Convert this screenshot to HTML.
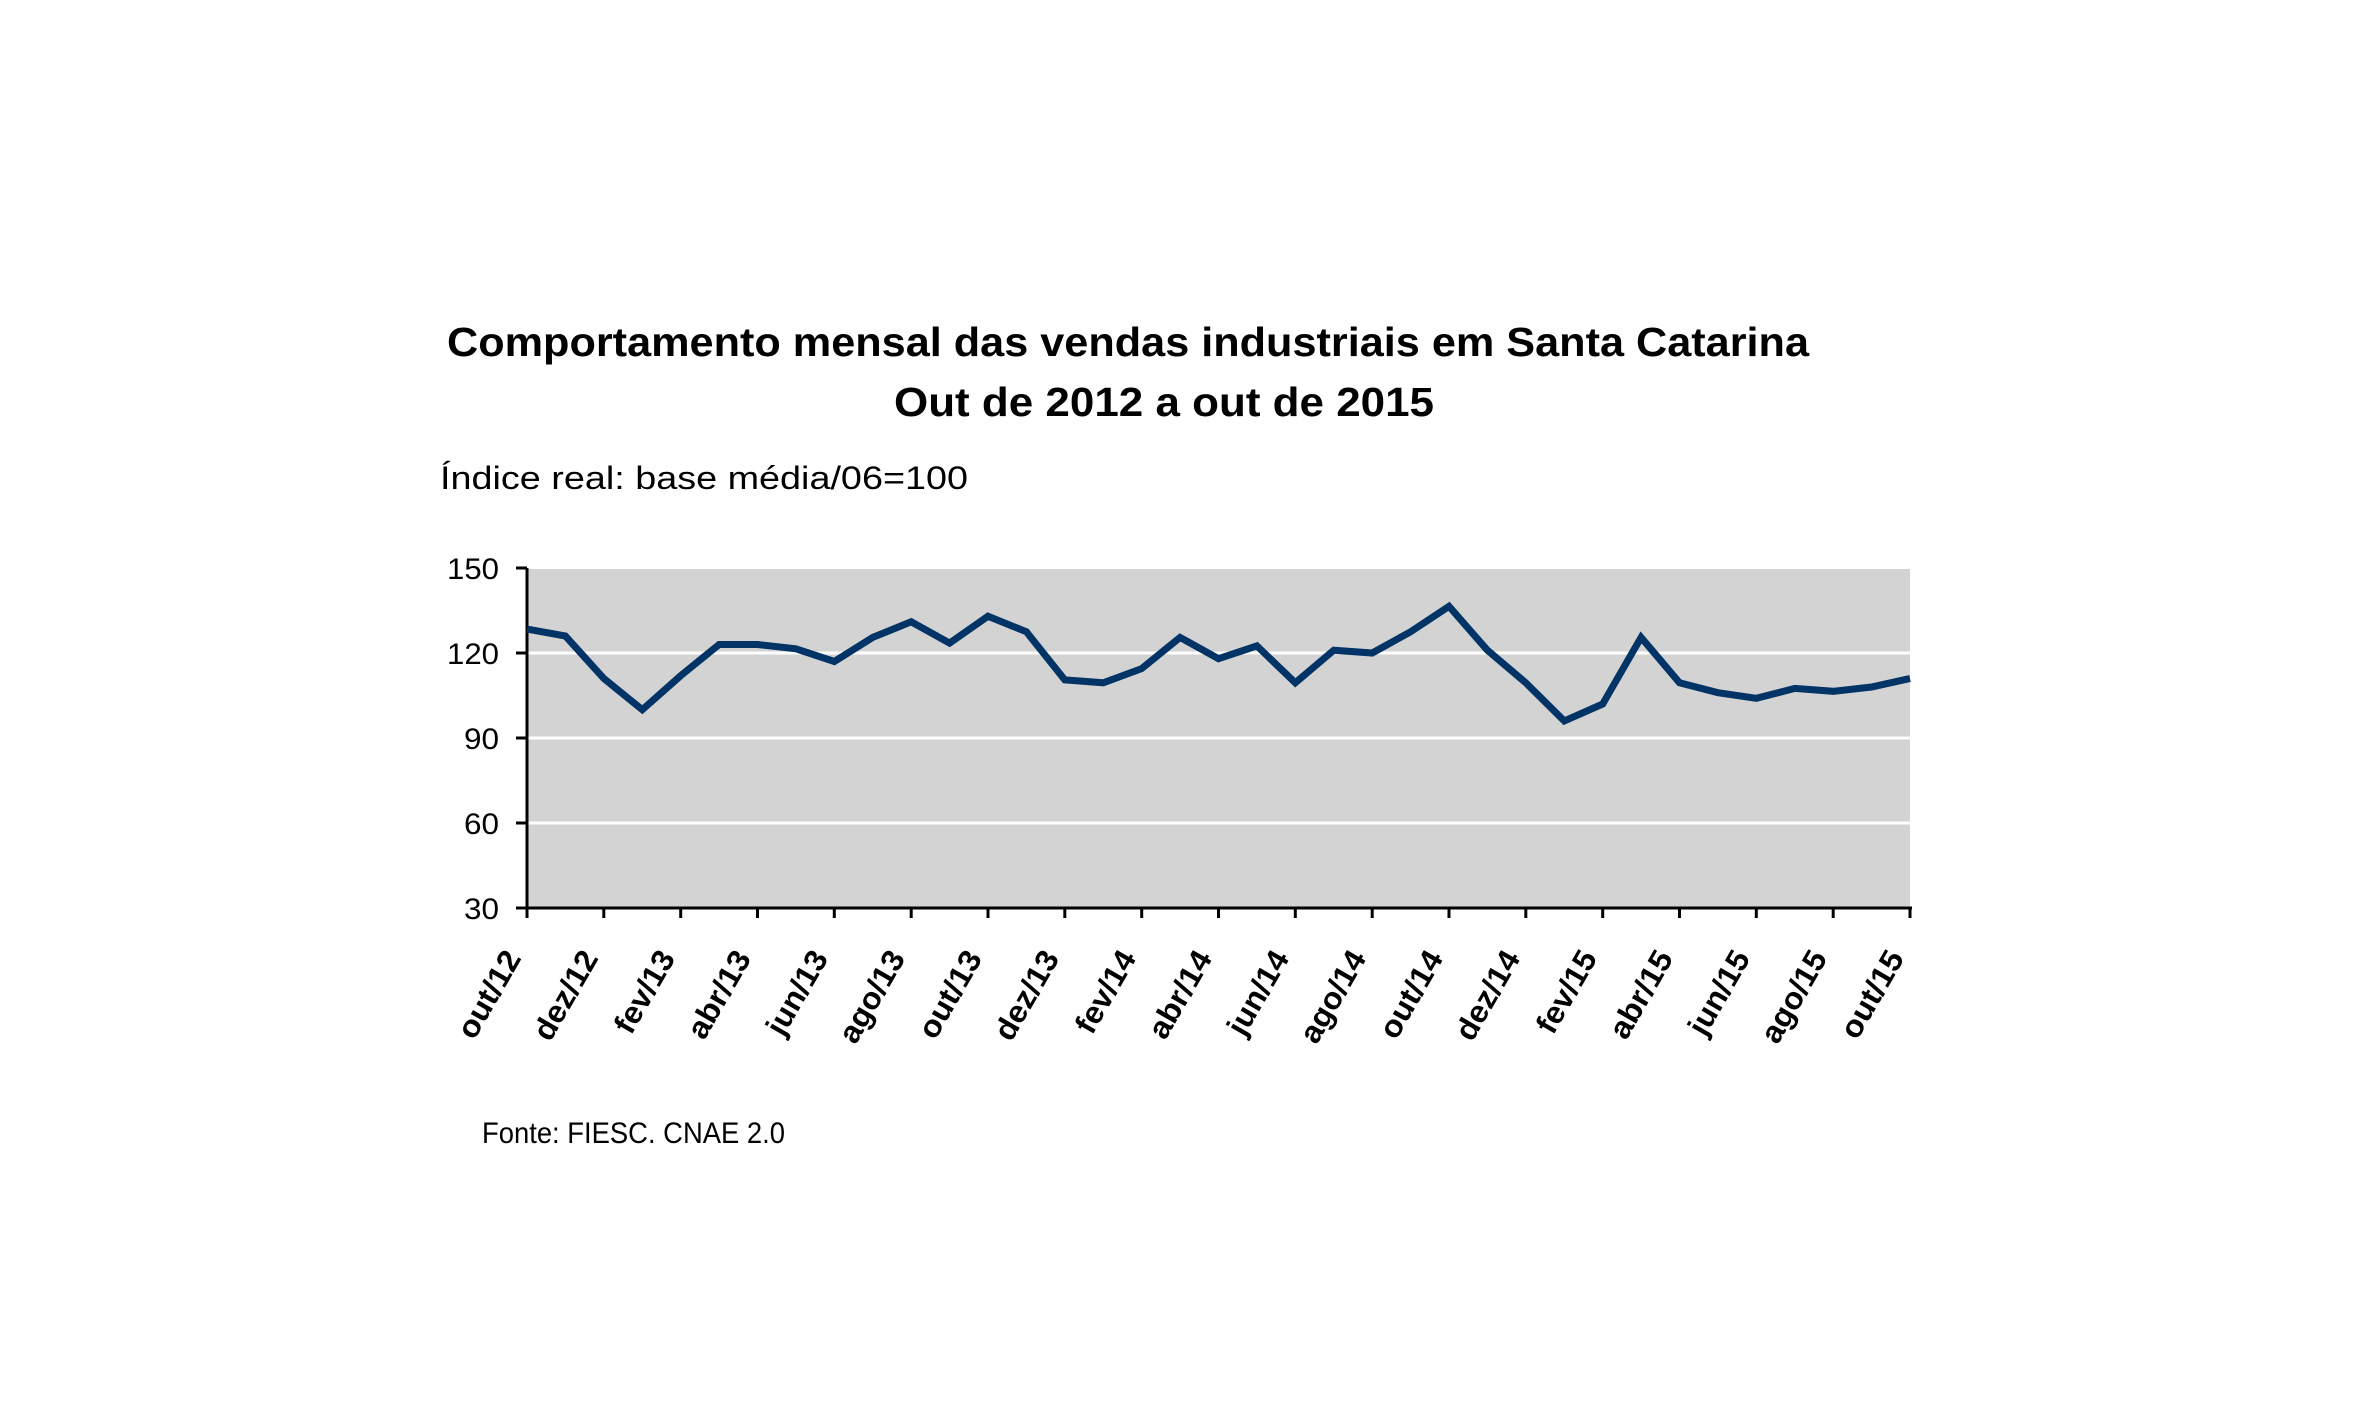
<!DOCTYPE html>
<html><head><meta charset="utf-8"><style>html,body{margin:0;padding:0;background:#fff}svg{display:block}</style></head>
<body>
<svg width="2362" height="1417" viewBox="0 0 2362 1417" xmlns="http://www.w3.org/2000/svg" font-family="'Liberation Sans', sans-serif">
<rect width="2362" height="1417" fill="#fff"/>
<text x="1128" y="356" font-size="41" font-weight="bold" text-anchor="middle" textLength="1362" lengthAdjust="spacingAndGlyphs">Comportamento mensal das vendas industriais em Santa Catarina</text>
<text x="1164" y="416" font-size="41" font-weight="bold" text-anchor="middle" textLength="540" lengthAdjust="spacingAndGlyphs">Out de 2012 a out de 2015</text>
<text x="440" y="489" font-size="32" textLength="528" lengthAdjust="spacingAndGlyphs">Índice real: base média/06=100</text>
<rect x="527" y="568" width="1383" height="340" fill="#d3d3d3"/>
<g stroke="#fff" stroke-width="3">
<line x1="527" y1="568" x2="1910" y2="568" stroke-width="2"/>
<line x1="527" y1="653" x2="1910" y2="653"/>
<line x1="527" y1="738" x2="1910" y2="738"/>
<line x1="527" y1="823" x2="1910" y2="823"/>
</g>
<g stroke="#000" stroke-width="3">
<line x1="527" y1="568" x2="527" y2="918"/>
<line x1="525" y1="908" x2="1912" y2="908"/>
<line x1="516" y1="568" x2="527" y2="568"/>
<line x1="516" y1="653" x2="527" y2="653"/>
<line x1="516" y1="738" x2="527" y2="738"/>
<line x1="516" y1="823" x2="527" y2="823"/>
<line x1="516" y1="908" x2="527" y2="908"/>
<line x1="603.8" y1="908" x2="603.8" y2="918"/>
<line x1="680.7" y1="908" x2="680.7" y2="918"/>
<line x1="757.5" y1="908" x2="757.5" y2="918"/>
<line x1="834.3" y1="908" x2="834.3" y2="918"/>
<line x1="911.2" y1="908" x2="911.2" y2="918"/>
<line x1="988" y1="908" x2="988" y2="918"/>
<line x1="1064.8" y1="908" x2="1064.8" y2="918"/>
<line x1="1141.7" y1="908" x2="1141.7" y2="918"/>
<line x1="1218.5" y1="908" x2="1218.5" y2="918"/>
<line x1="1295.3" y1="908" x2="1295.3" y2="918"/>
<line x1="1372.2" y1="908" x2="1372.2" y2="918"/>
<line x1="1449" y1="908" x2="1449" y2="918"/>
<line x1="1525.8" y1="908" x2="1525.8" y2="918"/>
<line x1="1602.7" y1="908" x2="1602.7" y2="918"/>
<line x1="1679.5" y1="908" x2="1679.5" y2="918"/>
<line x1="1756.3" y1="908" x2="1756.3" y2="918"/>
<line x1="1833.2" y1="908" x2="1833.2" y2="918"/>
<line x1="1910" y1="908" x2="1910" y2="918"/>
</g>
<g font-size="30" text-anchor="end">
<text x="499" y="579" textLength="52" lengthAdjust="spacingAndGlyphs">150</text>
<text x="499" y="664" textLength="52" lengthAdjust="spacingAndGlyphs">120</text>
<text x="499" y="749" textLength="35" lengthAdjust="spacingAndGlyphs">90</text>
<text x="499" y="834" textLength="35" lengthAdjust="spacingAndGlyphs">60</text>
<text x="499" y="919" textLength="35" lengthAdjust="spacingAndGlyphs">30</text>
</g>
<polyline fill="none" stroke="#003366" stroke-width="7" stroke-linejoin="miter" points="527,629.1 565.4,636 603.8,678.5 642.3,709.7 680.7,675.7 719.1,644.5 757.5,644.5 795.9,648.8 834.3,661.5 872.8,637.4 911.2,621.8 949.6,643.1 988,616.2 1026.4,631.8 1064.8,679.9 1103.3,682.8 1141.7,668.6 1180.1,637.4 1218.5,658.7 1256.9,645.9 1295.3,682.8 1333.8,650.2 1372.2,653 1410.6,631.8 1449,606.3 1487.4,650.2 1525.8,682.8 1564.3,721 1602.7,704 1641.1,637.4 1679.5,682.8 1717.9,692.7 1756.3,698.3 1794.8,688.4 1833.2,691.3 1871.6,687 1910,678.5"/>
<g font-size="31" font-weight="bold" text-anchor="end">
<text transform="translate(522,958) rotate(-60)" textLength="96" lengthAdjust="spacingAndGlyphs">out/12</text>
<text transform="translate(599,958) rotate(-60)" textLength="98" lengthAdjust="spacingAndGlyphs">dez/12</text>
<text transform="translate(676,958) rotate(-60)" textLength="90" lengthAdjust="spacingAndGlyphs">fev/13</text>
<text transform="translate(752,958) rotate(-60)" textLength="96" lengthAdjust="spacingAndGlyphs">abr/13</text>
<text transform="translate(829,958) rotate(-60)" textLength="92" lengthAdjust="spacingAndGlyphs">jun/13</text>
<text transform="translate(906,958) rotate(-60)" textLength="101" lengthAdjust="spacingAndGlyphs">ago/13</text>
<text transform="translate(983,958) rotate(-60)" textLength="96" lengthAdjust="spacingAndGlyphs">out/13</text>
<text transform="translate(1060,958) rotate(-60)" textLength="98" lengthAdjust="spacingAndGlyphs">dez/13</text>
<text transform="translate(1137,958) rotate(-60)" textLength="90" lengthAdjust="spacingAndGlyphs">fev/14</text>
<text transform="translate(1213,958) rotate(-60)" textLength="96" lengthAdjust="spacingAndGlyphs">abr/14</text>
<text transform="translate(1290,958) rotate(-60)" textLength="92" lengthAdjust="spacingAndGlyphs">jun/14</text>
<text transform="translate(1367,958) rotate(-60)" textLength="101" lengthAdjust="spacingAndGlyphs">ago/14</text>
<text transform="translate(1444,958) rotate(-60)" textLength="96" lengthAdjust="spacingAndGlyphs">out/14</text>
<text transform="translate(1521,958) rotate(-60)" textLength="98" lengthAdjust="spacingAndGlyphs">dez/14</text>
<text transform="translate(1598,958) rotate(-60)" textLength="90" lengthAdjust="spacingAndGlyphs">fev/15</text>
<text transform="translate(1674,958) rotate(-60)" textLength="96" lengthAdjust="spacingAndGlyphs">abr/15</text>
<text transform="translate(1751,958) rotate(-60)" textLength="92" lengthAdjust="spacingAndGlyphs">jun/15</text>
<text transform="translate(1828,958) rotate(-60)" textLength="101" lengthAdjust="spacingAndGlyphs">ago/15</text>
<text transform="translate(1905,958) rotate(-60)" textLength="96" lengthAdjust="spacingAndGlyphs">out/15</text>
</g>
<text x="482" y="1143" font-size="30" textLength="303" lengthAdjust="spacingAndGlyphs">Fonte: FIESC. CNAE 2.0</text>
</svg>
</body></html>
